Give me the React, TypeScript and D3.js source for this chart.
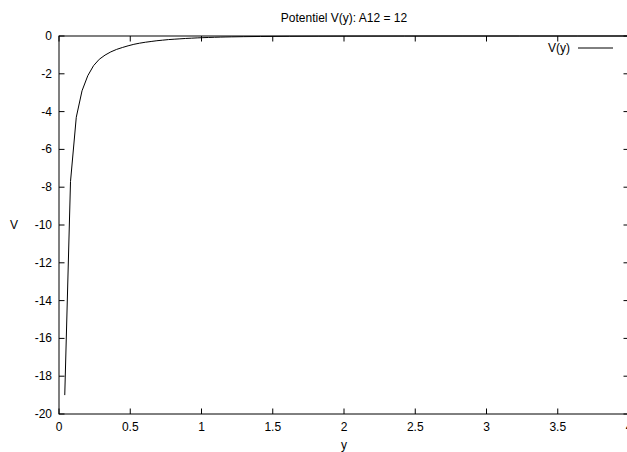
import React from "react";
import * as d3 from "d3";

const title = "Potentiel V(y): A12 = 12";
const xLabel = "y";
const yLabel = "V";
const seriesName = "V(y)";

// sample positions (gnuplot default sampling over [0:4])
const ySamples = [
  0.0404, 0.0808, 0.1212, 0.1616, 0.202, 0.2424, 0.2828, 0.3232, 0.3636, 0.404,
  0.4444, 0.4848, 0.5253, 0.5657, 0.6061, 0.6465, 0.6869, 0.7273, 0.7677, 0.8081,
  0.8485, 0.8889, 0.9293, 0.9697, 1.0101, 1.0505, 1.0909, 1.1313, 1.1717, 1.2121,
  1.2929, 1.4141, 1.6162, 1.8182, 2.0202, 2.4242, 2.8283, 3.2323, 3.6364, 4.0,
];
const vValues = [
  -19.0, -7.7, -4.3, -2.9, -2.1, -1.57, -1.23, -1.01, -0.84, -0.71,
  -0.61, -0.52, -0.44, -0.38, -0.33, -0.29, -0.25, -0.22, -0.19, -0.17,
  -0.15, -0.13, -0.115, -0.1, -0.088, -0.077, -0.067, -0.058, -0.051, -0.045,
  -0.035, -0.025, -0.015, -0.01, -0.007, -0.004, -0.002, -0.0013, -0.0009, -0.0006,
];

const xTicks = [0, 0.5, 1, 1.5, 2, 2.5, 3, 3.5, 4];
const yTicks = [0, -2, -4, -6, -8, -10, -12, -14, -16, -18, -20];

const W = 627;
const H = 452;
const left = 59;
const right = 629;
const top = 36;
const bottom = 414;
const tickLen = 5.5;
const font = "'Liberation Sans', Arial, Helvetica, sans-serif";

export default function App() {
  const x = d3.scaleLinear().domain([0, 4]).range([left, right]);
  const y = d3.scaleLinear().domain([-20, 0]).range([bottom, top]);
  const line = d3
    .line<number>()
    .x((_, i) => x(ySamples[i]))
    .y((d) => y(d));
  const path = line(vValues) || "";

  return (
    <div style={{ position: "absolute", left: 0, top: 0 }}>
      <svg width={W} height={H} style={{ display: "block", background: "#fff" }} fontFamily={font}>
        <rect x={0} y={0} width={W} height={H} fill="#fff" />
        {xTicks.map((t) => (
          <g key={"x" + t}>
            <line x1={x(t)} x2={x(t)} y1={bottom} y2={bottom - tickLen} stroke="#000" strokeWidth={1} />
            <line x1={x(t)} x2={x(t)} y1={top} y2={top + tickLen} stroke="#000" strokeWidth={1} />
            <text x={x(t)} y={431} fontSize={12} textAnchor="middle" fill="#000">
              {String(t)}
            </text>
          </g>
        ))}
        {yTicks.map((t) => (
          <g key={"y" + t}>
            <line x1={left} x2={left + tickLen} y1={y(t)} y2={y(t)} stroke="#000" strokeWidth={1} />
            <line x1={right} x2={right - tickLen} y1={y(t)} y2={y(t)} stroke="#000" strokeWidth={1} />
            <text x={52} y={y(t) + 4} fontSize={12} textAnchor="end" fill="#000">
              {String(t)}
            </text>
          </g>
        ))}
        <rect x={left} y={top} width={right - left} height={bottom - top} fill="none" stroke="#000" strokeWidth={1} />
        <path d={path} fill="none" stroke="#000" strokeWidth={1} />
        <text x={570} y={52} fontSize={12} textAnchor="end" fill="#000">
          {seriesName}
        </text>
        <line x1={578} x2={613} y1={48} y2={48} stroke="#000" strokeWidth={1} />
        <text x={(left + right) / 2} y={22} fontSize={12} textAnchor="middle" fill="#000">
          {title}
        </text>
        <text x={(left + right) / 2} y={449} fontSize={12} textAnchor="middle" fill="#000">
          {xLabel}
        </text>
        <text x={14} y={229} fontSize={12} textAnchor="middle" fill="#000">
          {yLabel}
        </text>
      </svg>
    </div>
  );
}
